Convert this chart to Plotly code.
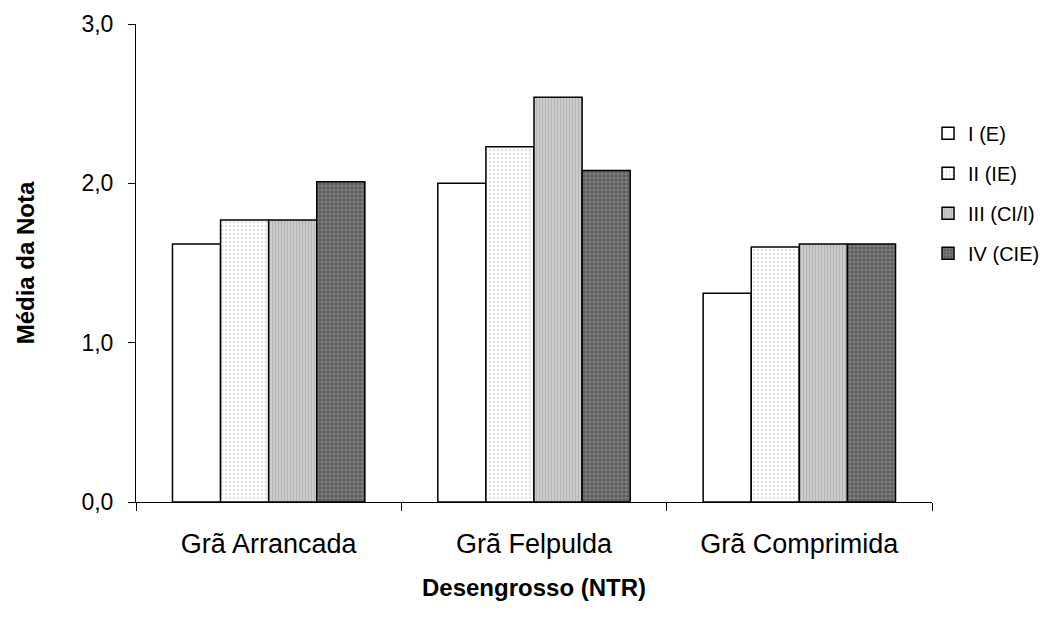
import plotly.graph_objects as go

# categories and series
categorias = ["Grã Arrancada", "Grã Felpulda", "Grã Comprimida"]
series = ["I (E)", "II (IE)", "III (CI/I)", "IV (CIE)"]
valores_I = [1.62, 2.00, 1.31]
valores_II = [1.77, 2.23, 1.60]
valores_III = [1.77, 2.54, 1.62]
valores_IV = [2.01, 2.08, 1.62]
y_ticks = [0, 1, 2, 3]

dados = [valores_I, valores_II, valores_III, valores_IV]

# fill styles (approx of the Excel pattern fills)
estilos = [
    dict(color="white"),
    dict(color="white", pattern=dict(shape=".", fgcolor="#bdbdbd", bgcolor="white", size=4, solidity=0.3)),
    dict(color="#c0c0c0", pattern=dict(shape="|", fgcolor="#9a9a9a", bgcolor="#cfcfcf", size=3, solidity=0.4)),
    dict(color="#606060", pattern=dict(shape="+", fgcolor="#d8d8d8", bgcolor="#5a5a5a", size=4, solidity=0.3)),
]

fig = go.Figure()
for i, (nome, vals) in enumerate(zip(series, dados)):
    fig.add_trace(go.Bar(
        x=categorias, y=vals, name=nome,
        legendgroup=nome,
        marker=dict(**estilos[i], line=dict(color="black", width=1.5)),
    ))

# page body adds 8px, margins below are compensated for it
fig.update_layout(
    width=1054, height=628,
    margin=dict(l=128, r=130, t=16, b=134, autoexpand=False),
    paper_bgcolor="white", plot_bgcolor="white",
    font=dict(family="Liberation Sans, Arial", size=22, color="black"),
    separators=",.",
    barmode="group",
    bargap=0.275, bargroupgap=0,
    showlegend=True,
    legend=dict(x=0.995, y=0.812, xanchor="left", yanchor="top",
                font=dict(size=20), tracegroupgap=11,
                bgcolor="rgba(0,0,0,0)"),
    xaxis=dict(
        showline=True, linecolor="black", linewidth=1,
        ticks="outside", tickson="boundaries", ticklen=8, tickcolor="black",
        ticklabelstandoff=18, tickfont=dict(size=27),
        title=dict(text="<b>Desengrosso (NTR)</b>", standoff=20, font=dict(size=24)),
        showgrid=False, automargin=False,
    ),
    yaxis=dict(
        range=[0, 3], tickvals=y_ticks, tickformat=".1f",
        showline=True, linecolor="black", linewidth=1,
        ticks="outside", ticklen=7, tickcolor="black",
        ticklabelstandoff=10, tickfont=dict(size=23),
        title=dict(text="<b>Média da Nota</b>", standoff=40, font=dict(size=24)),
        showgrid=False, zeroline=False, automargin=False,
    ),
)

fig.write_html("out.html")
